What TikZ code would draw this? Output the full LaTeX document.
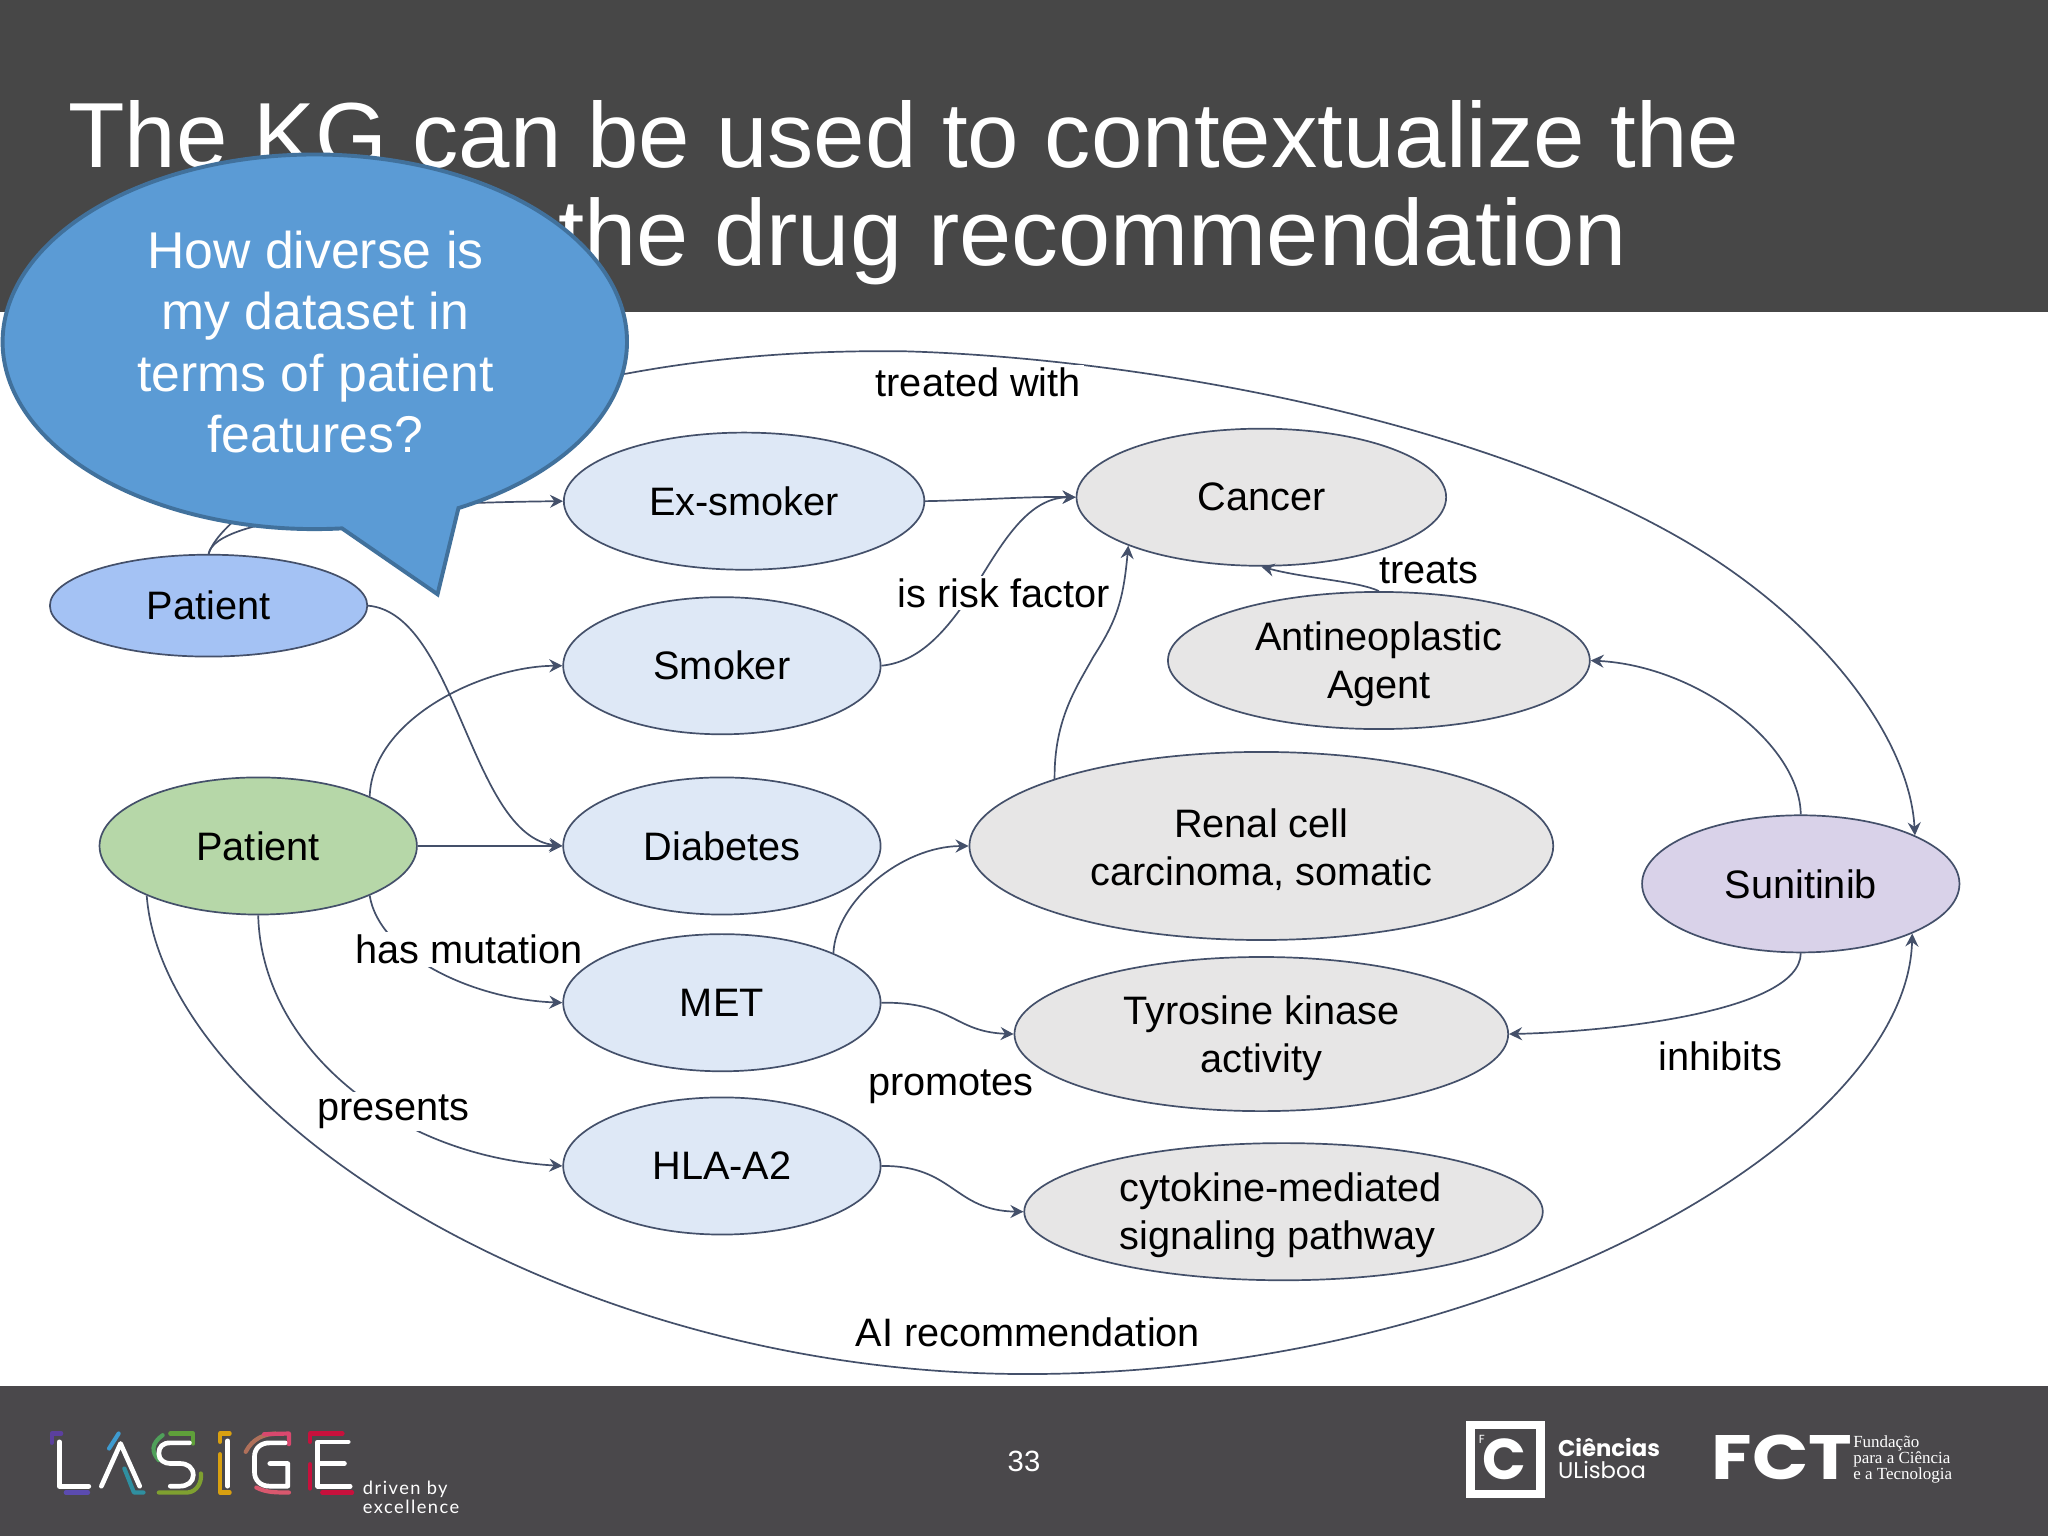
\documentclass[tikz,border=0pt]{standalone}
\usepackage{fontspec}
\usetikzlibrary{shapes.geometric,arrows.meta}
\setmainfont{Liberation Sans}
\newfontfamily\popfont{Poppins}
\newfontfamily\fctfont[BoldFeatures={FakeStretch=1.18}]{Poppins}
\newfontfamily\latofont[LetterSpace=8]{Lato}
\newfontfamily\serfont{Liberation Serif}
\newcommand\kgstrut{\rule{0pt}{14pt}}
\definecolor{edgec}{HTML}{44506A}
\definecolor{barc}{HTML}{474747}
\definecolor{footc}{HTML}{4A484B}
\definecolor{lightb}{HTML}{DEE8F6}
\definecolor{patb}{HTML}{A4C2F4}
\definecolor{patg}{HTML}{B6D7A8}
\definecolor{greyn}{HTML}{E7E6E6}
\definecolor{purn}{HTML}{D9D2E9}
\definecolor{callf}{HTML}{5B9BD5}
\definecolor{calld}{HTML}{41719C}
\definecolor{lgA}{HTML}{5B3F9E}
\definecolor{lgB}{HTML}{5B4BB0}
\definecolor{lgC}{HTML}{3E9BD0}
\definecolor{lgD}{HTML}{2F8FA0}
\definecolor{lgE}{HTML}{4FA05A}
\definecolor{lgF}{HTML}{5FA03A}
\definecolor{lgG}{HTML}{7FA030}
\definecolor{lgH}{HTML}{D9A010}
\definecolor{lgI}{HTML}{B0705A}
\definecolor{lgJ}{HTML}{D9486E}
\definecolor{lgK}{HTML}{D9586E}
\definecolor{lgL}{HTML}{C8103C}
\tikzset{
 kg/.style n args={3}{ellipse,draw=edgec,line width=0.65pt,fill=#3,minimum width=#1*0.5pt,minimum height=#2*0.5pt,inner sep=0pt,align=center,font=\fontsize{15.2}{18.3}\selectfont,text=black,xshift=0.35pt,yshift=-0.35pt},
 rel/.style={draw=edgec,line width=0.65pt,-{Stealth[length=5pt,width=5pt,inset=1.7pt]}},
 lab/.style={fill=white,inner sep=1pt,font=\fontsize{15.2}{18.3}\selectfont,text=black},
 ttl/.style={inner sep=0pt,text=white,font=\fontsize{35.4}{42}\selectfont},
 logo/.style={draw=white,line width=1.8pt,line cap=round,line join=round},
 acc/.style={draw=#1,line width=1.6pt,line cap=round,line join=round}
}
\begin{document}
\begin{tikzpicture}[x=0.5pt,y=-0.5pt]
\useasboundingbox (0,0) rectangle (1568,1176);
\fill[white] (0,0) rectangle (1568,1176);
\fill[barc] (0,0) rectangle (1568,239);
\fill[footc] (0,1061) rectangle (1568,1176);
\node[ttl,anchor=base west] (t1) at (52,128) {The KG can be used to contextualize the};
\node[ttl,anchor=base east,font=\fontsize{35.9}{42}\selectfont] (t2) at (1246,203) {the drug recommendation};
% nodes
\node[kg={243}{78}{patb}] (patA) at (159,463) {Patient};
\node[kg={243}{105}{patg}] (patB) at (197,647) {Patient};
\node[kg={276}{105}{lightb}] (ex) at (569,383) {Ex-smoker};
\node[kg={243}{105}{lightb}] (smoker) at (552,509) {Smoker};
\node[kg={243}{105}{lightb}] (diab) at (552,647) {Diabetes};
\node[kg={243}{105}{lightb}] (met) at (552,767) {MET};
\node[kg={243}{105}{lightb}] (hla) at (552,892) {HLA-A2};
\node[kg={283}{105}{greyn}] (cancer) at (965,380) {Cancer};
\node[kg={323}{105}{greyn}] (anti) at (1055,505) {\kgstrut Antineoplastic\\Agent};
\node[kg={447}{144}{greyn}] (renal) at (965,647) {\kgstrut Renal cell\\carcinoma, somatic};
\node[kg={378}{118}{greyn}] (tyro) at (965,791) {\kgstrut Tyrosine kinase\\activity};
\node[kg={397}{105}{greyn},align=left] (cyto) at (982,927) {\kgstrut cytokine-mediated\hspace*{2pt}\\signaling pathway};
\node[kg={243}{105}{purn}] (sun) at (1378,676) {Sunitinib};
% connectors
\draw[rel] (patA.north) .. controls (165,395) and (300,385) .. (ex.west);
\draw[rel] (patA.north) .. controls (170,390) and (290,312) .. (480,286) .. controls (550,273) and (620,268) .. (694,269) .. controls (860,274) and (1120,316) .. (1288,413) .. controls (1395,475) and (1462,565) .. (sun.23);
\draw[rel] (ex.east) .. controls (750,383) and (785,380) .. (cancer.west);
\draw[rel] (smoker.east) .. controls (700,507) and (720,490) .. (743,455) .. controls (765,420) and (785,381) .. (cancer.west);
\draw[rel] (patA.east) .. controls (350,470) and (360,640) .. (diab.west);
\draw[rel] (patB.24) .. controls (285,550) and (370,510) .. (smoker.west);
\draw[rel] (patB.east) -- (diab.west);
\draw[rel] (patB.-24) .. controls (290,730) and (360,765) .. (met.west);
\draw[rel] (patB.south) .. controls (200,800) and (300,885) .. (hla.west);
\draw[rel] (patB.204) .. controls (125,850) and (430,1052) .. (786,1052) .. controls (1150,1052) and (1460,870) .. (sun.-24);
\draw[rel] (renal.162) .. controls (807,550) and (825,525) .. (837,503) .. controls (855,475) and (860,460) .. (cancer.200);
\draw[rel] (met.24) .. controls (640,690) and (690,648) .. (renal.west);
\draw[rel] (met.east) .. controls (730,767) and (730,790) .. (tyro.west);
\draw[rel] (hla.east) .. controls (730,892) and (730,927) .. (cyto.west);
\draw[rel] (sun.north) .. controls (1378,570) and (1300,510) .. (anti.east);
\draw[rel] (sun.south) .. controls (1378,775) and (1230,790) .. (tyro.east);
\draw[rel] (anti.north) .. controls (1040,445) and (1000,443) .. (cancer.south);
% labels
\node[lab] (l1) at (749,293) {treated with};
\node[lab] (l2) at (768.5,454) {is risk factor};
\node[lab] (l3) at (1094,437) {treats};
\node[lab] (l4) at (359,727) {has mutation};
\node[lab] (l5) at (301,851) {presents};
\node[lab] (l6) at (728,832) {promotes};
\node[lab] (l7) at (1317,809) {inhibits};
\node[lab,fill=none] (l8) at (787,1020) {AI recommendation};
% callout
\draw[fill=callf,draw=calld,line width=1.5pt,line join=miter]
  (351,389) arc[start angle=-62.6,end angle=275,x radius=119.5pt,y radius=71.7pt] -- (335,455) -- cycle;
\node[inner sep=0pt,align=center,text=white,font=\fontsize{19.8}{23.5}\selectfont] (q) at (241.5,262) {How diverse is\\my dataset in\\terms of patient\\features?};
% page number
\node[inner sep=0pt,text=white,font=\fontsize{11.2}{13}\selectfont] (pg) at (784,1119) {33};
% LASIGE logo
\begin{scope}[shift={(0,1056.7)},x=0.1465pt,y=-0.1276pt]
 \draw[acc=lgA] (135,188)--(135,160)--(160,160);
 \draw[acc=lgB] (172,337)--(230,337);
 \draw[acc=lgC] (285,205)--(310,160);
 \draw[acc=lgD] (325,265)--(350,337)--(375,337);
 \draw[acc=lgE] (425,165) .. controls (395,190) and (395,215) .. (415,240);
 \draw[acc=lgF] (445,160)--(505,160)--(505,190);
 \draw[acc=lgG] (415,337)--(490,337) .. controls (515,335) and (528,305) .. (525,280);
 \draw[acc=lgH] (600,160)--(575,160)--(575,185);
 \draw[acc=lgH] (575,222)--(575,337)--(600,337);
 \draw[acc=lgI] (642,215) .. controls (660,175) and (690,162) .. (720,160);
 \draw[acc=lgJ] (690,162)--(755,160)--(755,192);
 \draw[acc=lgK] (670,322) .. controls (695,337) and (720,337) .. (755,337);
 \draw[acc=lgL] (810,185)--(810,160)--(895,160);
 \draw[acc=lgL] (810,252)--(810,325);
 \draw[acc=lgL] (842,337)--(920,337);
 \draw[logo] (155,185)--(155,318)--(232,318);
 \draw[logo] (265,318)--(315,190)--(365,318);
 \draw[logo] (495,188)--(445,188) .. controls (425,188) and (415,200) .. (415,220) .. controls (415,240) and (430,250) .. (445,250)--(470,250) .. controls (490,250) and (505,262) .. (505,285) .. controls (505,305) and (490,318) .. (470,318)--(445,318);
 \draw[logo] (595,182)--(595,318);
 \draw[logo] (745,188)--(705,188) .. controls (680,188) and (665,205) .. (665,230)--(665,275) .. controls (665,300) and (680,318) .. (705,318)--(752,318)--(752,250)--(705,250);
 \draw[logo] (910,185)--(830,185)--(830,318)--(915,318);
 \draw[logo] (830,250)--(900,250);
\end{scope}
\node[anchor=base west,inner sep=0pt,text=white,font=\latofont\fontsize{7}{8}\selectfont] (d1) at (277.5,1144) {driven by};
\node[anchor=base west,inner sep=0pt,text=white,font=\latofont\fontsize{7}{8}\selectfont] (d2) at (277.5,1159) {excellence};
% Ciencias logo
\draw[white,line width=3.2pt] (1125.7,1091) rectangle (1179.3,1144);
\node[inner sep=0pt,text=white,font=\popfont\bfseries\fontsize{22}{24}\selectfont] (c) at (1152,1117) {C};
\node[inner sep=0pt,text=white,font=\popfont\fontsize{4.5}{5}\selectfont] (f) at (1134.5,1102) {F};
\node[anchor=base west,inner sep=0pt,text=white,font=\popfont\fontsize{8.7}{9}\selectfont\bfseries] (ci) at (1192.5,1115) {Ciências};
\node[anchor=base west,inner sep=0pt,text=white,font=\popfont\fontsize{8.7}{9}\selectfont] (ul) at (1192.5,1132) {ULisboa};
% FCT logo
\node[anchor=base west,inner sep=0pt,text=white,font=\fctfont\bfseries\fontsize{24}{26}\selectfont] (fct) at (1310,1132.5) {FCT};
\node[anchor=base west,inner sep=0pt,text=white,font=\serfont\fontsize{6.5}{6.3}\selectfont] (fu) at (1418.5,1108) {Fundação};
\node[anchor=base west,inner sep=0pt,text=white,font=\serfont\fontsize{6.5}{6.3}\selectfont] (fu2) at (1418.5,1120.5) {para a Ciência};
\node[anchor=base west,inner sep=0pt,text=white,font=\serfont\fontsize{6.5}{6.3}\selectfont] (fu3) at (1418.5,1133) {e a Tecnologia};
\end{tikzpicture}
\end{document}
